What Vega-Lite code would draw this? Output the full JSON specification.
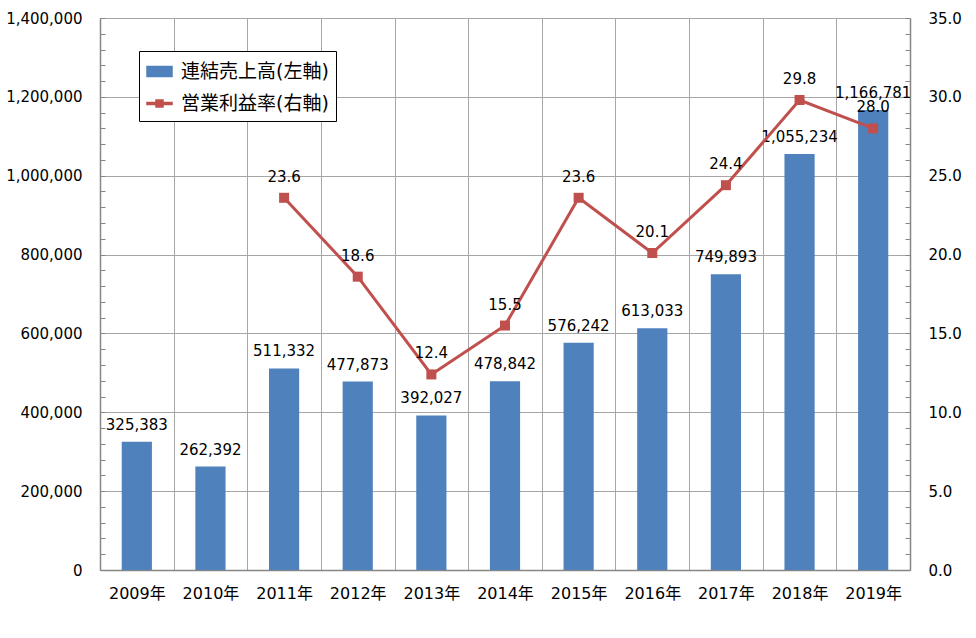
{
  "$schema": "https://vega.github.io/schema/vega-lite/v6.json",
  "width": 810,
  "height": 552,
  "autosize": {"type": "none"},
  "padding": {"left": 100, "top": 18, "right": 66, "bottom": 68},
  "background": "white",
  "config": {
    "font": "'DejaVu Sans', 'Noto Sans CJK JP'",
    "view": {"stroke": null},
    "axis": {
      "labelFontSize": 15,
      "labelColor": "black",
      "domainColor": "#868686",
      "domainWidth": 1.5,
      "tickColor": "#868686",
      "gridColor": "#A6A6A6",
      "labelOverlap": false,
      "title": null
    },
    "text": {"fontSize": 15, "color": "black"}
  },
  "data": {
    "values": [
      {"year": "2009年", "sales": 325383, "margin": null},
      {"year": "2010年", "sales": 262392, "margin": null},
      {"year": "2011年", "sales": 511332, "margin": 23.6},
      {"year": "2012年", "sales": 477873, "margin": 18.6},
      {"year": "2013年", "sales": 392027, "margin": 12.4},
      {"year": "2014年", "sales": 478842, "margin": 15.5},
      {"year": "2015年", "sales": 576242, "margin": 23.6},
      {"year": "2016年", "sales": 613033, "margin": 20.1},
      {"year": "2017年", "sales": 749893, "margin": 24.4},
      {"year": "2018年", "sales": 1055234, "margin": 29.8},
      {"year": "2019年", "sales": 1166781, "margin": 28.0}
    ]
  },
  "encoding": {
    "x": {
      "field": "year",
      "type": "nominal",
      "sort": null,
      "scale": {"paddingInner": 0, "paddingOuter": 0},
      "axis": {
        "labelAngle": 0,
        "labelFontSize": 16,
        "labelPadding": 15,
        "tickBand": "extent",
        "ticks": false,
        "grid": true
      }
    }
  },
  "layer": [
    {
      "layer": [
        {
          "mark": {"type": "bar", "width": {"band": 0.41}},
          "encoding": {
            "y": {
              "field": "sales",
              "type": "quantitative",
              "scale": {"domain": [0, 1400000], "nice": false},
              "axis": {
                "orient": "left",
                "tickCount": 40,
                "values": [0, 40000, 80000, 120000, 160000, 200000, 240000, 280000, 320000, 360000, 400000, 440000, 480000, 520000, 560000, 600000, 640000, 680000, 720000, 760000, 800000, 840000, 880000, 920000, 960000, 1000000, 1040000, 1080000, 1120000, 1160000, 1200000, 1240000, 1280000, 1320000, 1360000, 1400000],
                "labelExpr": "datum.value % 200000 == 0 ? format(datum.value, ',') : ''",
                "tickSize": -5,
                "labelPadding": 23,
                "grid": true,
                "gridColor": {"condition": {"test": "datum.value % 200000 == 0", "value": "#A6A6A6"}, "value": "transparent"}
              }
            },
            "color": {
              "datum": "連結売上高(左軸)",
              "type": "nominal",
              "scale": {
                "domain": ["連結売上高(左軸)", "営業利益率(右軸)"],
                "range": ["#4F81BD", "#C0504D"]
              },
              "legend": {
                "orient": "none",
                "legendX": 39,
                "legendY": 33,
                "title": null,
                "strokeColor": "black",
                "fillColor": "white",
                "padding": 7,
                "labelFontSize": 19,
                "labelColor": "black",
                "labelOffset": 8,
                "symbolSize": 625,
                "rowPadding": 8,
                "encode": {
                  "symbols": {
                    "update": {
                      "shape": {"signal": "datum.value === '連結売上高(左軸)' ? 'M-1,-0.4H1V0.4H-1Z' : 'M-1,-0.08H1V0.08H-1Z M-0.28,-0.28H0.28V0.28H-0.28Z'"},
                      "fill": {"signal": "scale('color', datum.value)"},
                      "stroke": {"value": "transparent"},
                      "opacity": {"value": 1}
                    }
                  }
                }
              }
            }
          }
        },
        {
          "mark": {"type": "text", "baseline": "middle", "dy": -17},
          "encoding": {
            "y": {"field": "sales", "type": "quantitative"},
            "text": {"field": "sales", "type": "quantitative", "format": ","}
          }
        }
      ]
    },
    {
      "transform": [{"filter": "datum.margin != null"}],
      "layer": [
        {
          "mark": {
            "type": "line",
            "strokeWidth": 3,
            "point": {"filled": true, "shape": "square", "size": 100, "opacity": 1}
          },
          "encoding": {
            "y": {
              "field": "margin",
              "type": "quantitative",
              "scale": {"domain": [0, 35], "nice": false},
              "axis": {
                "orient": "right",
                "tickCount": 40,
                "values": [0, 1, 2, 3, 4, 5, 6, 7, 8, 9, 10, 11, 12, 13, 14, 15, 16, 17, 18, 19, 20, 21, 22, 23, 24, 25, 26, 27, 28, 29, 30, 31, 32, 33, 34, 35],
                "labelExpr": "datum.value % 5 == 0 ? format(datum.value, '.1f') : ''",
                "tickSize": -5,
                "labelPadding": 23,
                "grid": false
              }
            },
            "color": {"datum": "営業利益率(右軸)", "type": "nominal"}
          }
        },
        {
          "mark": {"type": "text", "baseline": "middle", "dy": -21},
          "encoding": {
            "y": {"field": "margin", "type": "quantitative"},
            "text": {"field": "margin", "type": "quantitative", "format": ".1f"}
          }
        }
      ]
    }
  ],
  "resolve": {"scale": {"y": "independent"}}
}
